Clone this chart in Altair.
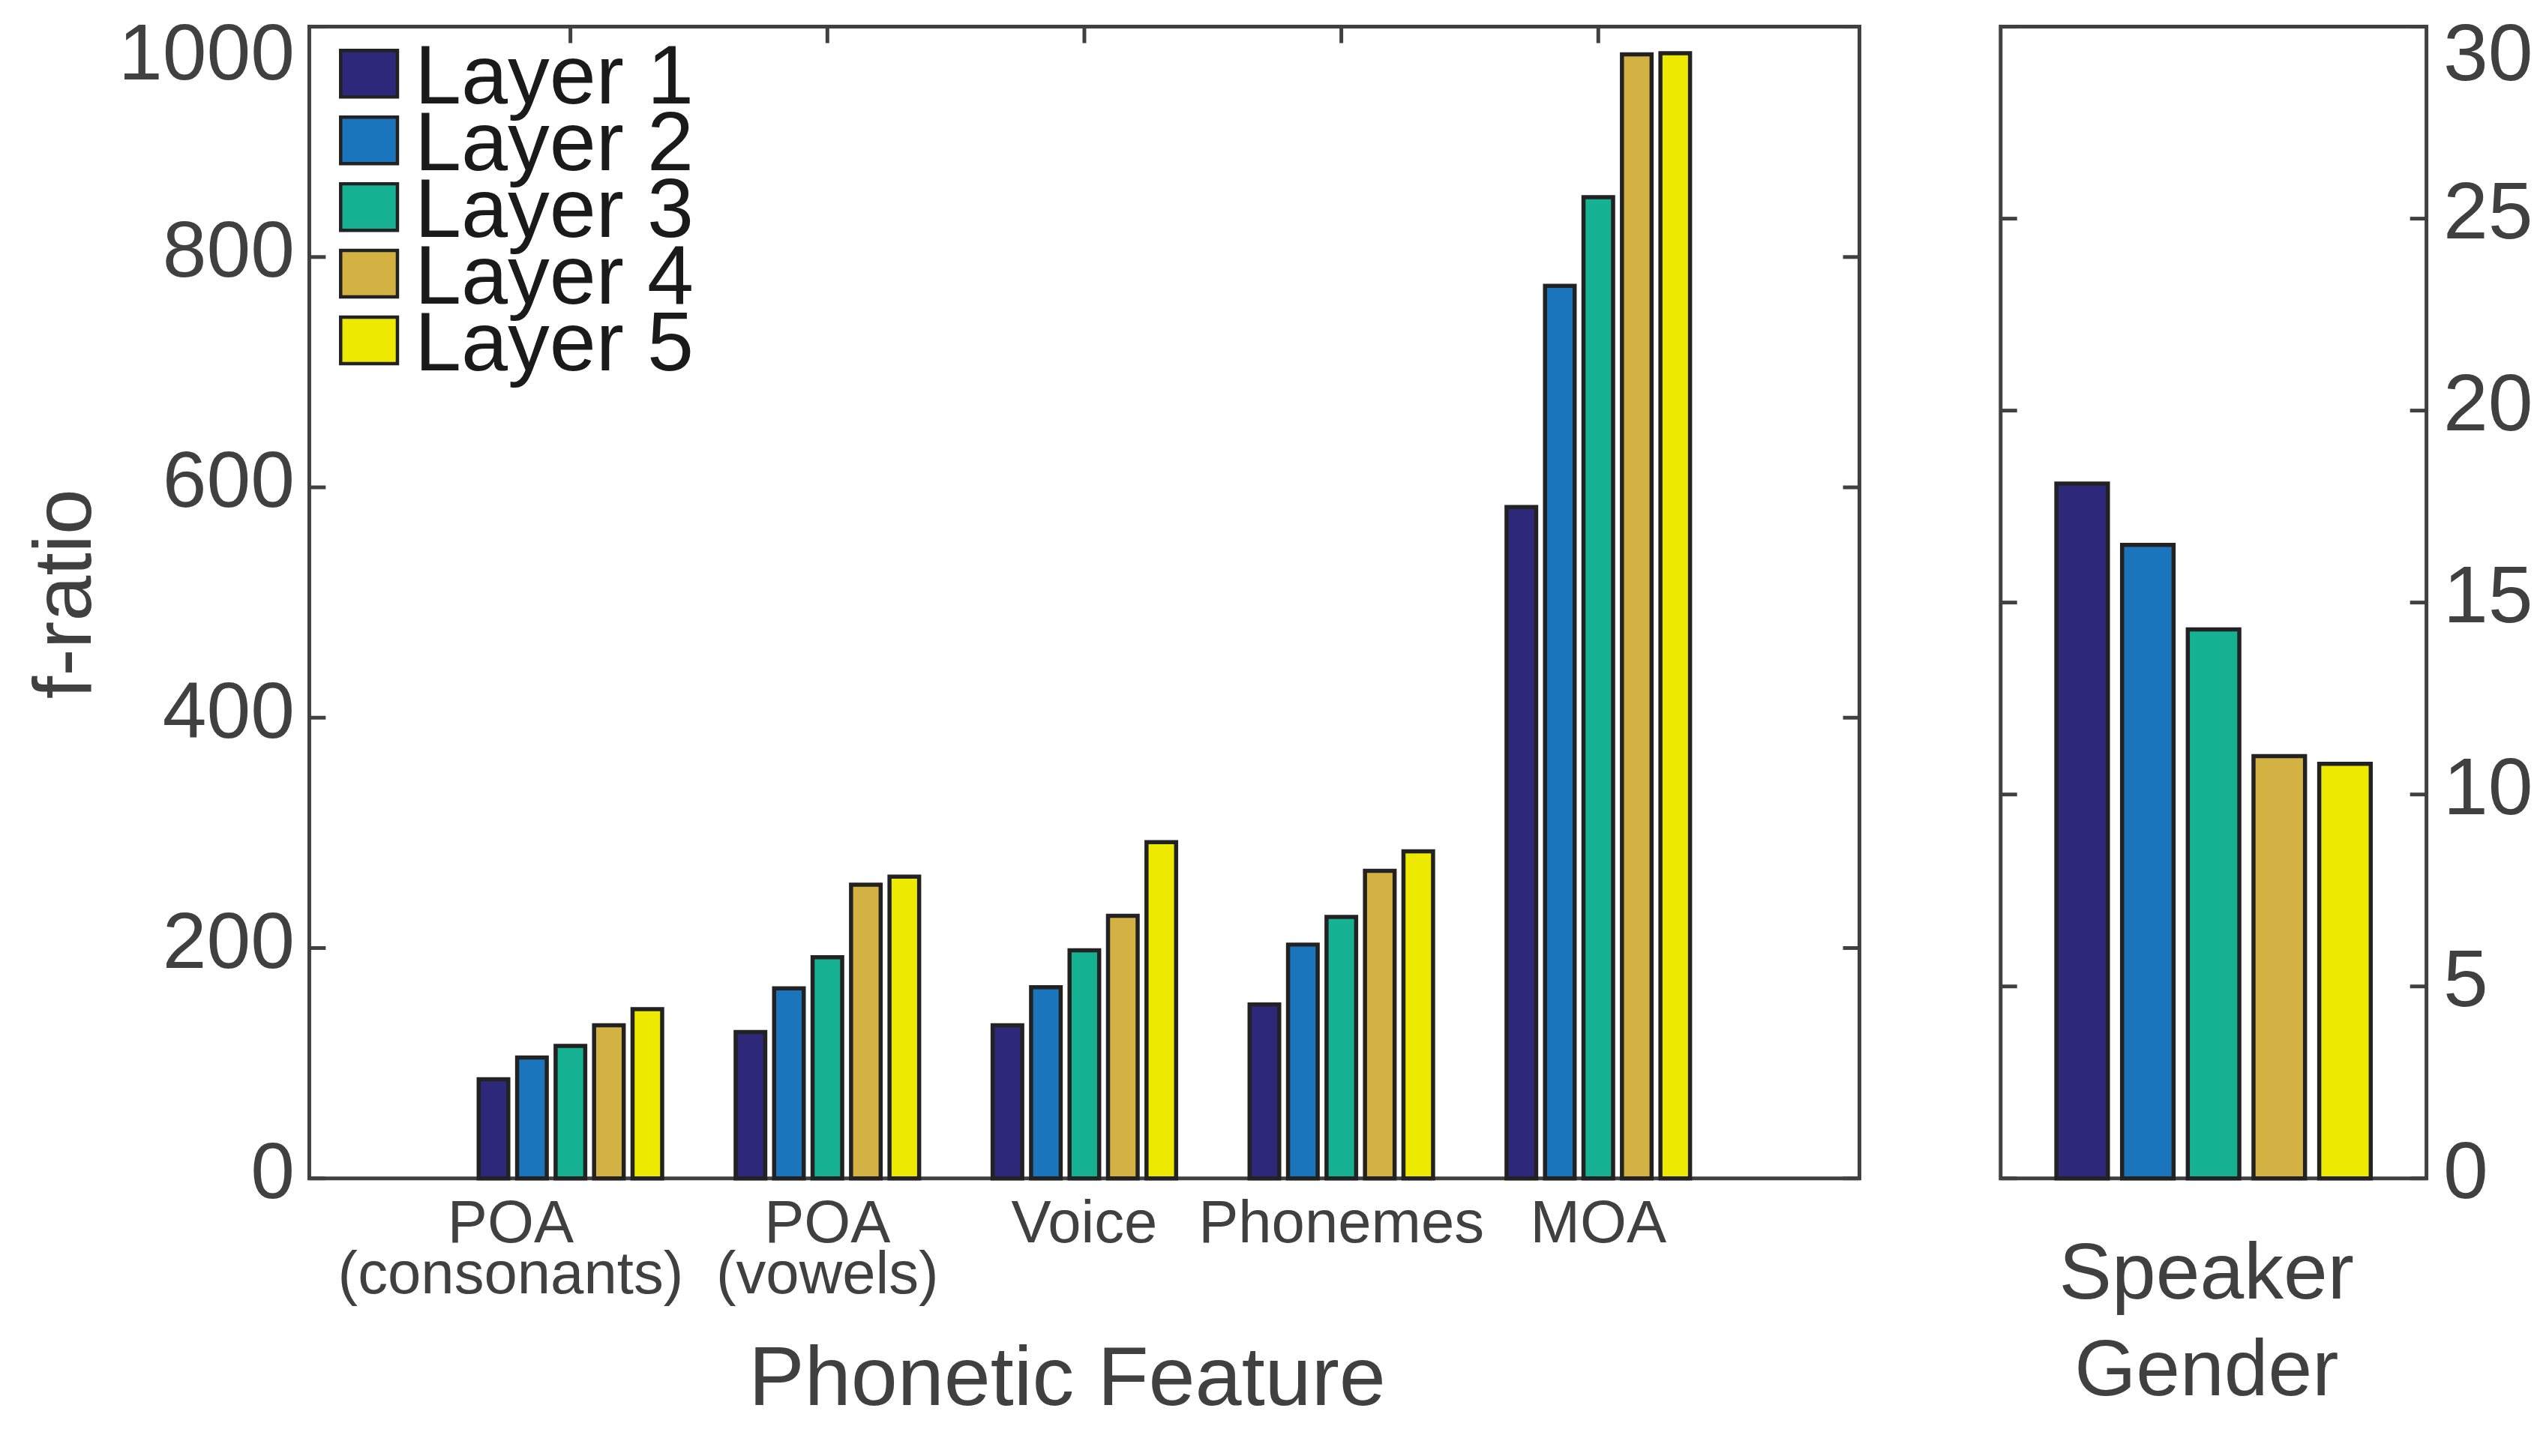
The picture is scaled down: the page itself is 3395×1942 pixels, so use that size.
import altair as alt
import pandas as pd

# ---- data -------------------------------------------------------------
layers = ["Layer 1", "Layer 2", "Layer 3", "Layer 4", "Layer 5"]
layer_colors = ["#2D2879", "#1B75BC", "#15B192", "#D3B243", "#EDE900"]

features = ["POA (consonants)", "POA (vowels)", "Voice", "Phonemes", "MOA"]
f_layer1 = [86, 127, 133, 151, 583]
f_layer2 = [105, 165, 166, 203, 775]
f_layer3 = [115, 192, 198, 227, 852]
f_layer4 = [133, 255, 228, 267, 976]
f_layer5 = [147, 262, 292, 284, 977]

gender_feature = "Speaker Gender"
gender_f = [18.1, 16.5, 14.3, 11.0, 10.8]

phonetic_ticks = [0, 200, 400, 600, 800, 1000]
gender_ticks = [0, 5, 10, 15, 20, 25, 30]

# ---- tables -----------------------------------------------------------
per_layer = [f_layer1, f_layer2, f_layer3, f_layer4, f_layer5]
phon_df = pd.DataFrame(
    [
        {"feature": feat, "layer": layers[i], "f": per_layer[i][j]}
        for j, feat in enumerate(features)
        for i in range(len(layers))
    ]
)
gender_df = pd.DataFrame(
    {"feature": [gender_feature] * len(layers), "layer": layers, "f": gender_f}
)
phon_tick_df = pd.DataFrame({"f": phonetic_ticks})
gender_tick_df = pd.DataFrame({"f": gender_ticks})
feature_df = pd.DataFrame({"feature": features})
legend_df = pd.DataFrame({"layer": layers})

# ---- styling ----------------------------------------------------------
FONT = "Liberation Sans"
AXIS = "#404040"
EDGE = "#222222"
W_LEFT, W_RIGHT, H = 2075, 570, 1542
TICK = 22
FRAME_W = 5
BAR_EDGE_W = 5.5

color_scale = alt.Scale(domain=layers, range=layer_colors)
layer_color = alt.Color("layer:N", sort=layers, scale=color_scale, legend=None)

# ---- left panel: phonetic features -----------------------------------
x_left = alt.Scale(paddingInner=0.2515, paddingOuter=0.642)
y_left = alt.Scale(domain=[0, 1000], nice=False, zero=True)

bars_left = alt.Chart(phon_df).mark_bar(stroke=EDGE, strokeWidth=BAR_EDGE_W).encode(
    x=alt.X(
        "feature:N",
        sort=features,
        scale=x_left,
        title="Phonetic Feature",
        axis=alt.Axis(
            labelAngle=0,
            labelFontSize=80,
            labelPadding=22,
            labelLineHeight=68,
            labelLimit=1000,
            labelOverlap=False,
            labelOffset={
                "condition": {"test": "datum.value == 'POA (consonants)'", "value": -80},
                "value": 0,
            },
            labelExpr="indexof(datum.label, ' (') > 0 ? split(datum.label, ' ') : datum.label",
            titleFontSize=112,
            titleX=1014,
            titleY=303,
            titleAlign="center",
            titleBaseline="alphabetic",
            titleLimit=3000,
        ),
    ),
    xOffset=alt.XOffset(
        "layer:N", sort=layers, scale=alt.Scale(paddingInner=0.23, paddingOuter=0.115)
    ),
    y=alt.Y(
        "f:Q",
        scale=y_left,
        title="f-ratio",
        axis=alt.Axis(
            values=phonetic_ticks,
            format="d",
            labelFontSize=106,
            labelPadding=20,
            labelLimit=1000,
            labelOffset={
                "condition": {"test": "datum.value == 1000", "value": -14},
                "value": -6,
            },
            labelBaseline={
                "condition": {"test": "datum.value == 1000", "value": "top"},
                "value": "middle",
            },
            titleFontSize=110,
            titleAngle=270,
            titleX=-293,
            titleY=759,
            titleAlign="center",
            titleBaseline="alphabetic",
        ),
    ),
    color=layer_color,
)

# inward-pointing ticks on the frame
left_ticks_l = alt.Chart(phon_tick_df).mark_rule(color=AXIS, strokeWidth=FRAME_W).encode(
    y=alt.Y("f:Q", scale=y_left, axis=None),
    x=alt.value(0),
    x2=alt.value(TICK),
)
left_ticks_r = alt.Chart(phon_tick_df).mark_rule(color=AXIS, strokeWidth=FRAME_W).encode(
    y=alt.Y("f:Q", scale=y_left, axis=None),
    x=alt.value(W_LEFT - TICK),
    x2=alt.value(W_LEFT),
)
left_ticks_top = alt.Chart(feature_df).mark_rule(color=AXIS, strokeWidth=FRAME_W).encode(
    x=alt.X("feature:N", sort=features, scale=x_left),
    y=alt.value(0),
    y2=alt.value(TICK),
)

# legend box in the upper-left corner of the panel
legend_rows = alt.Y(
    "layer:N",
    sort=layers,
    scale=alt.Scale(type="point", range=[63, 420], padding=0),
    axis=None,
)
legend_swatches = alt.Chart(legend_df).mark_point(
    shape="M-1,-0.82H1V0.82H-1Z",
    size=5776,
    filled=True,
    opacity=1,
    stroke=EDGE,
    strokeWidth=4.5,
).encode(x=alt.value(80), y=legend_rows, color=layer_color)
legend_labels = alt.Chart(legend_df).mark_text(
    align="left",
    baseline="middle",
    dy=6,
    font=FONT,
    fontSize=112,
    color="#1a1a1a",
).encode(x=alt.value(141), y=legend_rows, text="layer:N")

left = (
    alt.layer(
        bars_left, left_ticks_top, left_ticks_l, left_ticks_r, legend_swatches, legend_labels
    )
    .resolve_scale(y="independent")
    .properties(width=W_LEFT, height=H)
)

# ---- right panel: speaker gender -------------------------------------
x_right = alt.Scale(paddingInner=0, paddingOuter=0.148)
y_right = alt.Scale(domain=[0, 30], nice=False, zero=True)

bars_right = alt.Chart(gender_df).mark_bar(stroke=EDGE, strokeWidth=BAR_EDGE_W).encode(
    x=alt.X(
        "feature:N",
        scale=x_right,
        title=["Speaker", "Gender"],
        axis=alt.Axis(
            labels=False,
            titleFontSize=106,
            titleLineHeight=130,
            titleX=275,
            titleY=160,
            titleAlign="center",
            titleBaseline="alphabetic",
        ),
    ),
    xOffset=alt.XOffset(
        "layer:N", sort=layers, scale=alt.Scale(paddingInner=0.216, paddingOuter=0.108)
    ),
    y=alt.Y(
        "f:Q",
        scale=y_right,
        title=None,
        axis=alt.Axis(
            orient="right",
            values=gender_ticks,
            format="d",
            labelFontSize=108,
            labelPadding=22,
            labelLimit=1000,
            labelOffset={
                "condition": {"test": "datum.value == 30", "value": -14},
                "value": -6,
            },
            labelBaseline={
                "condition": {"test": "datum.value == 30", "value": "top"},
                "value": "middle",
            },
        ),
    ),
    color=layer_color,
)

right_ticks_l = alt.Chart(gender_tick_df).mark_rule(color=AXIS, strokeWidth=FRAME_W).encode(
    y=alt.Y("f:Q", scale=y_right),
    x=alt.value(0),
    x2=alt.value(TICK),
)
right_ticks_r = alt.Chart(gender_tick_df).mark_rule(color=AXIS, strokeWidth=FRAME_W).encode(
    y=alt.Y("f:Q", scale=y_right),
    x=alt.value(W_RIGHT - TICK),
    x2=alt.value(W_RIGHT),
)

right = alt.layer(bars_right, right_ticks_l, right_ticks_r).properties(
    width=W_RIGHT, height=H
)

# ---- assemble ---------------------------------------------------------
chart = (
    alt.hconcat(left, right, spacing=179)
    .resolve_scale(xOffset="independent")
    .properties(
        background="white",
        padding={"left": 30, "top": 14, "right": 15, "bottom": 40},
    )
    .configure_view(stroke=AXIS, strokeWidth=FRAME_W)
    .configure_axis(
        domain=False,
        ticks=False,
        grid=False,
        labelFont=FONT,
        titleFont=FONT,
        labelColor=AXIS,
        titleColor=AXIS,
        titleFontWeight="normal",
    )
)

chart.save("out.html", embed_options={"renderer": "svg", "actions": False})
